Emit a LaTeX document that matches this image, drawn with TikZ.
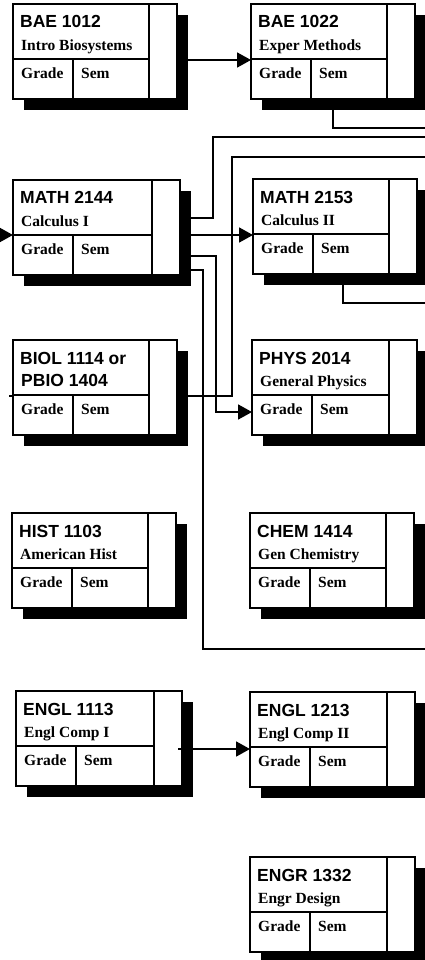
\documentclass[tikz,border=0pt]{standalone}
\usepackage{fontspec}
\setmainfont{Liberation Serif}
\newfontfamily\titlefamily{Liberation Sans}
\usetikzlibrary{calc,arrows.meta}

\newcommand\ttlfont{\titlefamily\bfseries\fontsize{17.5}{20}\selectfont}
\newcommand\subfont{\bfseries\fontsize{15.5}{18}\selectfont}

\tikzset{
 coursebox/.style={draw, line width=1.8pt, fill=white, rectangle, inner sep=0pt, outer sep=0pt, minimum height=95pt, anchor=north west},
 shadowbox/.style={fill=black},
 divider/.style={line width=1.8pt},
 conn/.style={line width=1.8pt},
 arr/.style={conn, -{Triangle[length=14pt,width=15pt]}},
 ttl/.style={anchor=base west, inner sep=0pt, font=\ttlfont},
 sub/.style={anchor=base west, inner sep=0pt, font=\subfont},
}

\newcommand\coursebox[6]{%
 \fill[shadowbox] ($(#2,#3)+(11,11)$) rectangle ++(#4,95);
 \node[coursebox, minimum width=#4pt] (#1) at (#2,#3) {};
 \draw[divider] ($(#1.north west)+(0,55)$) -- ($(#1.north east)+(-28,55)$);
 \draw[divider] ($(#1.north east)+(-28,0)$) -- ($(#1.south east)+(-28,0)$);
 \draw[divider] ($(#1.north west)+(60,55)$) -- ($(#1.south west)+(60,0)$);
 \node[ttl] (#1-title) at ($(#1.north west)+(7,24)$) {#5};
 \node[sub] (#1-sub) at ($(#1.north west)+(8,46.5)$) {#6};
 \node[sub] (#1-grade) at ($(#1.north west)+(8,74.5)$) {Grade};
 \node[sub] (#1-sem) at ($(#1.north west)+(68,74.5)$) {Sem};
}

\begin{document}
\begin{tikzpicture}[x=1pt,y=-1pt]
\useasboundingbox (0,0) rectangle (425,960);

\coursebox{b1012}{13}{4}{164}{BAE 1012}{Intro Biosystems}
\coursebox{b1022}{251}{4}{164}{BAE 1022}{Exper Methods}
\coursebox{m2144}{13}{180}{167}{MATH 2144}{Calculus I}
\coursebox{m2153}{253}{179}{164}{MATH 2153}{Calculus II}
\coursebox{biol}{13}{340}{164}{BIOL 1114 or}{\ttlfont PBIO 1404}
\coursebox{phys}{252}{340}{165}{PHYS 2014}{General Physics}
\coursebox{hist}{12}{513}{164}{HIST 1103}{American Hist}
\coursebox{chem}{250}{513}{164}{CHEM 1414}{Gen Chemistry}
\coursebox{e1113}{16}{691}{166}{ENGL 1113}{Engl Comp I}
\coursebox{e1213}{250}{692}{165}{ENGL 1213}{Engl Comp II}
\coursebox{engr}{250}{857}{165}{ENGR 1332}{Engr Design}

\draw[divider] ($(biol.north west)+(-4,56)$) -- (biol.north west |- {$(biol.north west)+(0,56)$});

\coordinate (offA) at (427,128);
\coordinate (offB) at (427,137);
\coordinate (offC) at (427,157);
\coordinate (offD) at (427,649);
\coordinate (offE) at (427,303);
\coordinate (inL) at (-1,235);

\draw[arr] ($(b1012.north east)+(0,56)$) coordinate (c1) -- (c1 -| b1022.west);
\draw[conn] ($(b1022.south west)+(82,0)$) |- (offA);
\draw[conn] ($(m2144.north east)+(0,38)$) -- ++(33,0) |- (offB);
\draw[conn] ($(biol.north east)+(0,56)$) -- ++(55,0) |- (offC);
\draw[arr] ($(m2144.north east)+(0,55)$) coordinate (c2) -- (c2 -| m2153.west);
\draw[arr] ($(m2144.north east)+(0,76)$) -- ++(36,0) |- ($(phys.north west)+(0,72)$);
\draw[conn] ($(m2144.north east)+(0,90)$) -- ++(23,0) |- (offD);
\draw[conn] ($(m2153.south west)+(90,0)$) |- (offE);
\draw[arr] (inL) -- (inL -| m2144.west);
\draw[arr] ($(e1113.north east)+(-4,58)$) coordinate (c3) -- (c3 -| e1213.west);
\end{tikzpicture}
\end{document}
